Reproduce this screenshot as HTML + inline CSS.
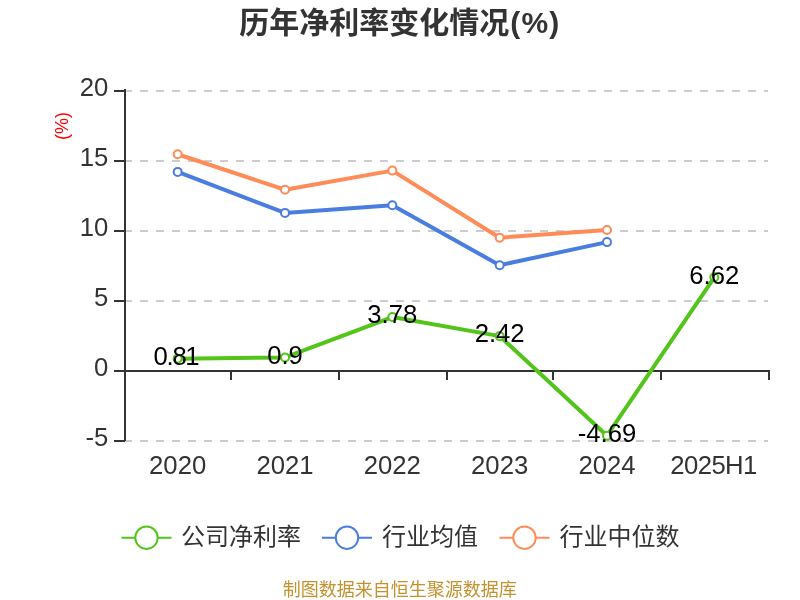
<!DOCTYPE html>
<html lang="zh-CN"><head><meta charset="utf-8"><title>历年净利率变化情况(%)</title>
<style>html,body{margin:0;padding:0;background:#fff}body{width:800px;height:600px;overflow:hidden}svg{display:block;will-change:transform}text{font-family:"Liberation Sans", "Noto Sans CJK SC", sans-serif}</style>
</head><body>
<svg width="800" height="600" viewBox="0 0 800 600">
<rect width="800" height="600" fill="#fff"/>
<text x="239.3" y="33" font-size="30" font-weight="bold" fill="#333">历年净利率变化情况<tspan dx="1" letter-spacing="1.2">(%)</tspan></text>
<g stroke="#ccc" stroke-width="2" stroke-dasharray="8 8" fill="none">
<line x1="124" y1="91" x2="768" y2="91"/>
<line x1="124" y1="161" x2="768" y2="161"/>
<line x1="124" y1="231" x2="768" y2="231"/>
<line x1="124" y1="301" x2="768" y2="301"/>
<line x1="124" y1="441" x2="768" y2="441"/>
</g>
<g fill="#333" shape-rendering="crispEdges">
<rect x="124" y="89" width="2" height="352"/>
<rect x="114" y="90" width="11" height="2"/>
<rect x="114" y="160" width="11" height="2"/>
<rect x="114" y="230" width="11" height="2"/>
<rect x="114" y="300" width="11" height="2"/>
<rect x="114" y="370" width="11" height="2"/>
<rect x="114" y="440" width="11" height="2"/>
<rect x="124" y="370" width="646" height="2"/>
<rect x="230" y="371" width="2" height="9"/>
<rect x="338" y="371" width="2" height="9"/>
<rect x="446" y="371" width="2" height="9"/>
<rect x="552" y="371" width="2" height="9"/>
<rect x="660" y="371" width="2" height="9"/>
<rect x="768" y="371" width="2" height="9"/>
</g>
<g font-size="25.7" fill="#333" text-anchor="end">
<text x="108.3" y="96">20</text>
<text x="108.3" y="166">15</text>
<text x="108.3" y="236">10</text>
<text x="108.3" y="306">5</text>
<text x="108.3" y="376">0</text>
<text x="108.3" y="446">-5</text>
</g>
<text transform="translate(68,126) rotate(-90)" text-anchor="middle" font-size="18" fill="#f00">(%)</text>
<g font-size="25.7" fill="#333" text-anchor="middle">
<text x="177.67" y="474">2020</text>
<text x="285.00" y="474">2021</text>
<text x="392.33" y="474">2022</text>
<text x="499.67" y="474">2023</text>
<text x="607.00" y="474">2024</text>
<text x="714.33" y="474" letter-spacing="-0.55" dx="-0.8">2025H1</text>
</g>
<polyline points="177.67,358.66 285.00,357.40 392.33,317.08 499.67,336.12 607.00,435.66 714.33,277.32" fill="none" stroke="#52c41a" stroke-width="4" stroke-linejoin="bevel"/>
<circle cx="177.67" cy="358.66" r="4" fill="#fff" stroke="#52c41a" stroke-width="2"/>
<circle cx="285.00" cy="357.40" r="4" fill="#fff" stroke="#52c41a" stroke-width="2"/>
<circle cx="392.33" cy="317.08" r="4" fill="#fff" stroke="#52c41a" stroke-width="2"/>
<circle cx="499.67" cy="336.12" r="4" fill="#fff" stroke="#52c41a" stroke-width="2"/>
<circle cx="607.00" cy="435.66" r="4" fill="#fff" stroke="#52c41a" stroke-width="2"/>
<circle cx="714.33" cy="277.32" r="4" fill="#fff" stroke="#52c41a" stroke-width="2"/>
<polyline points="177.67,171.90 285.00,212.90 392.33,205.25 499.67,265.20 607.00,242.10" fill="none" stroke="#4a7de0" stroke-width="4" stroke-linejoin="bevel"/>
<circle cx="177.67" cy="171.90" r="4" fill="#fff" stroke="#4a7de0" stroke-width="2"/>
<circle cx="285.00" cy="212.90" r="4" fill="#fff" stroke="#4a7de0" stroke-width="2"/>
<circle cx="392.33" cy="205.25" r="4" fill="#fff" stroke="#4a7de0" stroke-width="2"/>
<circle cx="499.67" cy="265.20" r="4" fill="#fff" stroke="#4a7de0" stroke-width="2"/>
<circle cx="607.00" cy="242.10" r="4" fill="#fff" stroke="#4a7de0" stroke-width="2"/>
<polyline points="177.67,154.25 285.00,189.75 392.33,170.60 499.67,237.70 607.00,230.00" fill="none" stroke="#ff8b57" stroke-width="4" stroke-linejoin="bevel"/>
<circle cx="177.67" cy="154.25" r="4" fill="#fff" stroke="#ff8b57" stroke-width="2"/>
<circle cx="285.00" cy="189.75" r="4" fill="#fff" stroke="#ff8b57" stroke-width="2"/>
<circle cx="392.33" cy="170.60" r="4" fill="#fff" stroke="#ff8b57" stroke-width="2"/>
<circle cx="499.67" cy="237.70" r="4" fill="#fff" stroke="#ff8b57" stroke-width="2"/>
<circle cx="607.00" cy="230.00" r="4" fill="#fff" stroke="#ff8b57" stroke-width="2"/>
<g font-size="25.7" fill="#000" text-anchor="middle">
<text x="177.67" y="365" letter-spacing="-1.3" dx="-1.7">0.81</text>
<text x="285.00" y="364">0.9</text>
<text x="392.33" y="323">3.78</text>
<text x="499.67" y="342">2.42</text>
<text x="607.00" y="442">-4.69</text>
<text x="714.33" y="284">6.62</text>
</g>
<g fill="none" stroke="#52c41a" stroke-width="2"><line x1="121.5" y1="537.7" x2="171.5" y2="537.7"/><circle cx="146.5" cy="537.7" r="11.2" fill="#fff"/></g>
<text x="180.9" y="545.1" font-size="24" fill="#333">公司净利率</text>
<g fill="none" stroke="#4a7de0" stroke-width="2"><line x1="322" y1="537.7" x2="372" y2="537.7"/><circle cx="347" cy="537.7" r="11.2" fill="#fff"/></g>
<text x="382" y="545.1" font-size="24" fill="#333">行业均值</text>
<g fill="none" stroke="#ff8b57" stroke-width="2"><line x1="499.5" y1="537.7" x2="549.5" y2="537.7"/><circle cx="524.5" cy="537.7" r="11.2" fill="#fff"/></g>
<text x="559.5" y="545.1" font-size="24" fill="#333">行业中位数</text>
<text x="399.8" y="596.3" text-anchor="middle" font-size="18" fill="#c4912f">制图数据来自恒生聚源数据库</text>
</svg></body></html>
